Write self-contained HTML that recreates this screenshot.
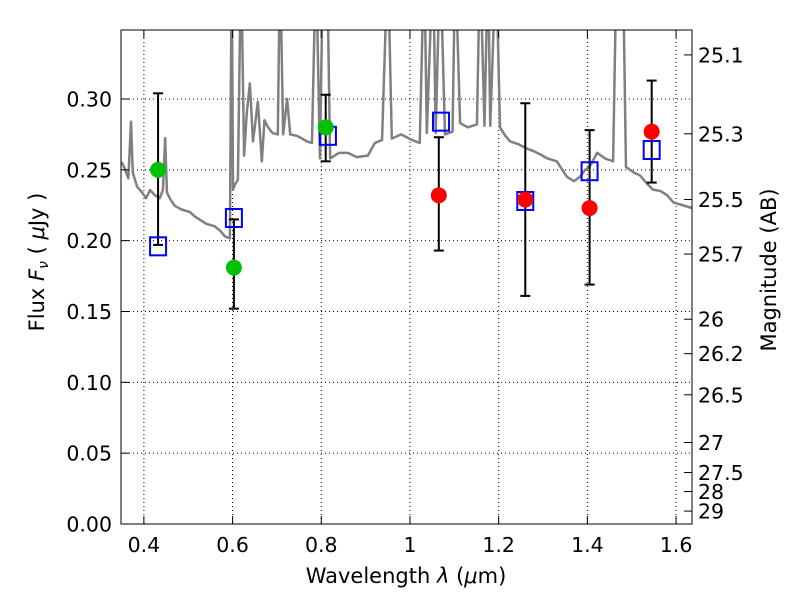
<!DOCTYPE html>
<html><head><meta charset="utf-8"><style>
body{margin:0;background:#fff}
svg{font-family:"DejaVu Sans","Liberation Sans",sans-serif}
</style></head><body>
<svg id="chart" width="800" height="600" xmlns="http://www.w3.org/2000/svg">
<defs><clipPath id="clip"><rect x="121" y="30" width="571" height="494"/></clipPath></defs>
<rect x="0" y="0" width="800" height="600" fill="#fff"/>
<g id="grid"></g>
<g id="spec" clip-path="url(#clip)"></g>
<g id="marks"></g>
<rect x="121" y="30" width="571" height="494" fill="none" stroke="#000" stroke-width="1"/>
<g id="axes"></g>
<text x="406" y="583" font-size="21" text-anchor="middle">Wavelength  <tspan font-style="italic">λ</tspan> (<tspan font-style="italic">μ</tspan>m)</text>
<text transform="translate(44,262) rotate(-90)" font-size="21" text-anchor="middle">Flux  <tspan font-style="italic">F</tspan><tspan font-style="italic" font-size="14" dy="4">ν</tspan><tspan dy="-4">  ( </tspan><tspan font-style="italic">μ</tspan>Jy )</text>
<text transform="translate(776,270) rotate(-90)" font-size="21" text-anchor="middle">Magnitude (AB)</text>
</svg>
<script>
const xTicks=[0.4,0.6,0.8,1.0,1.2,1.4,1.6];
const xTickLabels=["0.4","0.6","0.8","1","1.2","1.4","1.6"];
const yTicks=[0,0.05,0.10,0.15,0.20,0.25,0.30];
const yTickLabels=["0.00","0.05","0.10","0.15","0.20","0.25","0.30"];
const magTicks=[25.1,25.3,25.5,25.7,26,26.2,26.5,27,27.5,28,29];
const magLabels=["25.1","25.3","25.5","25.7","26","26.2","26.5","27","27.5","28","29"];
const greenWl=[0.432,0.603,0.81];
const greenFlux=[0.250,0.181,0.280];
const redWl=[1.065,1.26,1.405,1.545];
const redFlux=[0.232,0.229,0.223,0.277];
const errWl=[0.432,0.603,0.81,1.065,1.26,1.405,1.545];
const errLo=[0.197,0.152,0.256,0.193,0.161,0.169,0.241];
const errHi=[0.304,0.215,0.303,0.273,0.297,0.278,0.313];
const modelWl=[0.432,0.603,0.815,1.07,1.26,1.405,1.545];
const modelFlux=[0.196,0.216,0.274,0.284,0.228,0.249,0.264];
const specWl=[0.350,0.358,0.365,0.371,0.375,0.385,0.396,0.405,0.414,0.425,0.436,0.443,0.448,0.452,0.460,0.470,0.485,0.504,0.515,0.527,0.540,0.560,0.572,0.583,0.594,0.598,0.601,0.606,0.612,0.619,0.626,0.632,0.639,0.646,0.657,0.666,0.672,0.680,0.690,0.702,0.707,0.714,0.723,0.730,0.745,0.757,0.768,0.779,0.788,0.797,0.804,0.813,0.820,0.840,0.860,0.880,0.905,0.921,0.937,0.950,0.959,0.980,1.005,1.022,1.032,1.038,1.052,1.058,1.068,1.079,1.096,1.102,1.113,1.130,1.151,1.158,1.168,1.176,1.181,1.194,1.203,1.215,1.226,1.245,1.264,1.280,1.293,1.310,1.331,1.354,1.370,1.383,1.395,1.405,1.422,1.440,1.458,1.466,1.480,1.487,1.505,1.519,1.535,1.548,1.565,1.580,1.594,1.615,1.636];
const specFlux=[0.2555,0.250,0.244,0.284,0.248,0.238,0.234,0.230,0.2357,0.232,0.230,0.236,0.2725,0.234,0.229,0.2245,0.222,0.2202,0.217,0.2146,0.212,0.2101,0.207,0.203,0.2016,0.40,0.236,0.240,0.243,0.40,0.26,0.29,0.311,0.27,0.298,0.256,0.285,0.280,0.276,0.275,0.40,0.275,0.300,0.275,0.274,0.272,0.270,0.269,0.40,0.258,0.40,0.40,0.258,0.262,0.262,0.259,0.260,0.269,0.271,0.40,0.272,0.275,0.271,0.269,0.40,0.276,0.40,0.276,0.40,0.275,0.277,0.40,0.283,0.280,0.282,0.40,0.281,0.40,0.281,0.40,0.280,0.274,0.270,0.268,0.265,0.263,0.261,0.258,0.256,0.245,0.242,0.245,0.250,0.252,0.262,0.258,0.256,0.40,0.40,0.252,0.248,0.246,0.240,0.236,0.235,0.232,0.227,0.225,0.223];
const X0=121.7,X1=692,XMIN=0.35,XMAX=0.35+(692-121.7)/443.5;
const Y0=524,YTOP=30,YMAX=(524-30)/1416.7;
const sx=v=>X0+(v-XMIN)/(XMAX-XMIN)*(X1-X0);
const sy=v=>Y0-v/YMAX*(Y0-YTOP);
const NS="http://www.w3.org/2000/svg";
function mk(tag,attrs,parent){const e=document.createElementNS(NS,tag);for(const k in attrs)e.setAttribute(k,attrs[k]);parent.appendChild(e);return e;}
const grid=document.getElementById('grid'),axes=document.getElementById('axes'),spec=document.getElementById('spec'),marks=document.getElementById('marks');
xTicks.forEach((t,i)=>{const x=sx(t);
 let g=mk('line',{x1:x,x2:x,y1:30,y2:524,stroke:'#000','stroke-dasharray':'1,3','stroke-width':1},grid);
 
 mk('line',{x1:x,x2:x,y1:524,y2:516,stroke:'#000'},axes);
 mk('line',{x1:x,x2:x,y1:30,y2:38,stroke:'#000'},axes);
 let l=mk('text',{x:x,y:552,'font-size':20.5,'text-anchor':'middle'},axes);l.textContent=xTickLabels[i];
 });
yTicks.forEach((t,i)=>{const y=sy(t);
 if(t>0){let g=mk('line',{x1:121,x2:692,y1:y,y2:y,stroke:'#000','stroke-dasharray':'1,3','stroke-width':1},grid);
 }
 mk('line',{x1:121,x2:129,y1:y,y2:y,stroke:'#000'},axes);
 let l=mk('text',{x:112,y:y+7.5,'font-size':20.5,'text-anchor':'end'},axes);l.textContent=yTickLabels[i];
 });
magTicks.forEach((m,i)=>{const y=sy(Math.pow(10,(23.9-m)/2.5));
 mk('line',{x1:684,x2:692,y1:y,y2:y,stroke:'#000'},axes);
 let l=mk('text',{x:698,y:y+7.5,'font-size':20.5},axes);l.textContent=magLabels[i];
 });
let pts=specWl.map((w,i)=>sx(w)+','+sy(specFlux[i])).join(' ');
let pl=mk('polyline',{points:pts,fill:'none',stroke:'#808080','stroke-width':2.5,'stroke-linejoin':'round'},spec);

errWl.forEach((w,i)=>{const x=sx(w),a=sy(errLo[i]),b=sy(errHi[i]);
 let e=mk('g',{stroke:'#000','stroke-width':2},marks);
 
 mk('line',{x1:x,x2:x,y1:a,y2:b},e);mk('line',{x1:x-5,x2:x+5,y1:a,y2:a},e);mk('line',{x1:x-5,x2:x+5,y1:b,y2:b},e);});
modelWl.forEach((w,i)=>{let r=mk('rect',{x:sx(w)-8,y:sy(modelFlux[i])-9,width:16,height:18,fill:'none',stroke:'#0000ff','stroke-width':2},marks);
 });
greenWl.forEach((w,i)=>{let c=mk('circle',{cx:sx(w),cy:sy(greenFlux[i]),r:8,fill:'#00c000'},marks);
 });
redWl.forEach((w,i)=>{let c=mk('circle',{cx:sx(w),cy:sy(redFlux[i]),r:8,fill:'#ff0000'},marks);
 });
</script>
</body></html>
